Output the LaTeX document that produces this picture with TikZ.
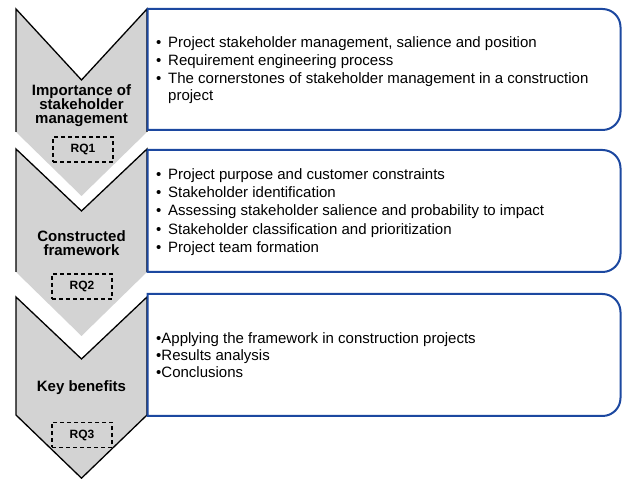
\documentclass[tikz,border=0pt]{standalone}
\usepackage{fontspec}
\setmainfont{Liberation Sans}
\definecolor{chevgray}{RGB}{211,211,211}
\definecolor{boxblue}{RGB}{28,72,160}
\begin{document}
\begin{tikzpicture}[x=1pt,y=1pt,
  chev/.style={fill=chevgray, draw=none},
  chevline/.style={draw=black, line width=1.3pt, line join=miter},
  infobox/.style={draw=boxblue, line width=2pt, fill=white},
  rqbox/.style={draw=black, dash pattern=on 4pt off 3pt, line width=1.1pt, minimum width=60pt, minimum height=25pt, inner sep=0pt, font=\bfseries\fontsize{12}{14}\selectfont},
  lefttext/.style={anchor=base, font=\bfseries\fontsize{15}{15}\selectfont, inner sep=0pt},
  righttext/.style={anchor=base west, font=\fontsize{15}{18}\selectfont, inner sep=0pt},
]
\useasboundingbox (0,0) rectangle (622,479);

% ---- chevron 1
\coordinate (c1bl) at (16,347); \coordinate (c1tl) at (16,470);
\coordinate (c1n) at (81.5,399); \coordinate (c1tr) at (147,470);
\coordinate (c1br) at (147,347); \coordinate (c1p) at (81.5,283);
\fill[chev] (c1bl) -- (c1tl) -- (c1n) -- (c1tr) -- (c1br) -- (c1p) -- cycle;
\draw[chevline] (c1bl) -- (c1tl) -- (c1n) -- (c1tr) -- (c1br);

% ---- chevron 2
\coordinate (c2bl) at (16,207); \coordinate (c2tl) at (16,330);
\coordinate (c2n) at (81.5,268); \coordinate (c2tr) at (147,330);
\coordinate (c2br) at (147,207); \coordinate (c2p) at (81.5,143);
\fill[chev] (c2bl) -- (c2tl) -- (c2n) -- (c2tr) -- (c2br) -- (c2p) -- cycle;
\draw[chevline] (c2bl) -- (c2tl) -- (c2n) -- (c2tr) -- (c2br);

% ---- chevron 3
\coordinate (c3bl) at (16,64); \coordinate (c3tl) at (16,182);
\coordinate (c3n) at (81.5,120); \coordinate (c3tr) at (147,182);
\coordinate (c3br) at (147,64); \coordinate (c3p) at (81.5,0.8);
\fill[chev] (c3bl) -- (c3tl) -- (c3n) -- (c3tr) -- (c3br) -- (c3p) -- cycle;
\draw[chevline] (c3bl) -- (c3tl) -- (c3n) -- (c3tr) -- (c3br) -- (c3p) -- cycle;

% ---- boxes
\coordinate (b1sw) at (147.5,349);
\draw[infobox] (b1sw) -- (147.5,470) -- (602.5,470) arc[start angle=90,end angle=0,radius=18pt] -- (620.5,367) arc[start angle=0,end angle=-90,radius=18pt] -- cycle;
\coordinate (b2sw) at (147.5,207);
\draw[infobox] (b2sw) -- (147.5,329) -- (602.5,329) arc[start angle=90,end angle=0,radius=18pt] -- (620.5,225) arc[start angle=0,end angle=-90,radius=18pt] -- cycle;
\coordinate (b3sw) at (147.5,63);
\draw[infobox] (b3sw) -- (147.5,185) -- (602.5,185) arc[start angle=90,end angle=0,radius=18pt] -- (620.5,81) arc[start angle=0,end angle=-90,radius=18pt] -- cycle;

% ---- left labels
\node[lefttext] (l1a) at (81.5,383) {Importance of};
\node[lefttext] (l1b) at (81.5,369) {stakeholder};
\node[lefttext] (l1c) at (81.5,355) {management};
\node[lefttext] (l2a) at (81.5,237.5) {Constructed};
\node[lefttext] (l2b) at (81.5,223) {framework};
\node[lefttext] (l3a) at (81.5,87.5) {Key benefits};

\node[rqbox] (rq1) at (83,329.5) {RQ1};
\node[rqbox] (rq2) at (82,192.5) {RQ2};
\node[rqbox] (rq3) at (82,44) {RQ3};

% ---- right texts
\node[righttext] (t11) at (156,431.5) {\makebox[12pt][l]{\textbullet}Project stakeholder management, salience and position};
\node[righttext] (t12) at (156,413.5) {\makebox[12pt][l]{\textbullet}Requirement engineering process};
\node[righttext] (t13) at (156,395.5) {\makebox[12pt][l]{\textbullet}The cornerstones of stakeholder management in a construction};
\node[righttext] (t14) at (168,378.5) {project};

\node[righttext] (t21) at (156,299.5) {\makebox[12pt][l]{\textbullet}Project purpose and customer constraints};
\node[righttext] (t22) at (156,281) {\makebox[12pt][l]{\textbullet}Stakeholder identification};
\node[righttext] (t23) at (156,263) {\makebox[12pt][l]{\textbullet}Assessing stakeholder salience and probability to impact};
\node[righttext] (t24) at (156,244.5) {\makebox[12pt][l]{\textbullet}Stakeholder classification and prioritization};
\node[righttext] (t25) at (156,226) {\makebox[12pt][l]{\textbullet}Project team formation};

\node[righttext] (t31) at (156,135) {\textbullet{}Applying the framework in construction projects};
\node[righttext] (t32) at (156,118) {\textbullet{}Results analysis};
\node[righttext] (t33) at (156,101) {\textbullet{}Conclusions};
\end{tikzpicture}
\end{document}
